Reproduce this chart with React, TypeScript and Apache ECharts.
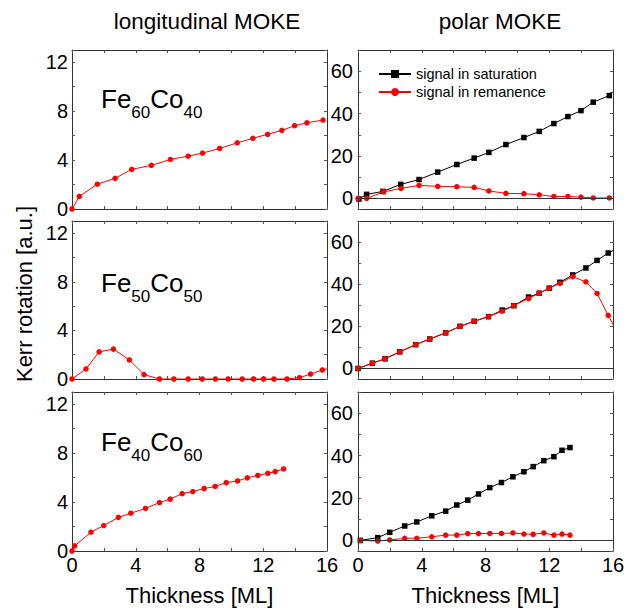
import React, { useEffect, useRef } from "react";
import * as echarts from "echarts";

// ---------- data ----------
const xTickLabels = [0, 4, 8, 12, 16];
const longYTickLabels = [0, 4, 8, 12];
const polarYTickLabels = [0, 20, 40, 60];

const fe60LongX = [0, 0.46, 1.59, 2.7, 3.75, 4.98, 6.18, 7.29, 8.19, 9.26, 10.37, 11.35, 12.27, 13.17, 13.97, 14.74, 15.75];
const fe60LongY = [0, 1.03, 2.03, 2.51, 3.24, 3.57, 4.05, 4.32, 4.57, 4.95, 5.41, 5.78, 6.11, 6.43, 6.81, 7.05, 7.27];

const fe50LongX = [0, 0.88, 1.7, 2.6, 3.6, 4.52, 5.49, 6.39, 7.29, 8.17, 9.0, 9.8, 10.68, 11.39, 12.02, 12.67, 13.49, 14.28, 14.97, 15.71, 16.4];
const fe50LongY = [0, 0.83, 2.23, 2.46, 1.57, 0.36, 0, 0, 0, 0, 0, 0, 0, 0, 0, 0, 0, 0.11, 0.41, 0.74, 0.95];

const fe40LongX = [0, 0.17, 1.19, 1.99, 2.91, 3.69, 4.61, 5.49, 6.16, 6.91, 7.58, 8.29, 8.98, 9.68, 10.39, 11.0, 11.66, 12.29, 12.75, 13.28];
const fe40LongY = [0, 0.42, 1.54, 2.08, 2.75, 3.09, 3.48, 3.96, 4.24, 4.69, 4.86, 5.11, 5.28, 5.59, 5.73, 5.98, 6.18, 6.35, 6.49, 6.71];

const fe60PolSatX = [0.06, 0.54, 1.57, 2.68, 3.83, 5.0, 6.2, 7.29, 8.21, 9.28, 10.41, 11.37, 12.29, 13.17, 13.99, 14.76, 15.77];
const fe60PolSatY = [-0.3, 1.9, 3.3, 6.6, 8.9, 12.4, 16.0, 19.0, 21.7, 25.4, 28.7, 31.6, 35.3, 38.6, 41.4, 45.4, 48.5];
const fe60PolRemX = [0, 0.54, 1.61, 2.7, 3.83, 5.0, 6.2, 7.29, 8.21, 9.28, 10.41, 11.37, 12.29, 13.17, 13.99, 14.76, 15.77];
const fe60PolRemY = [0, 0, 3.1, 4.7, 6.1, 5.7, 5.5, 5.2, 3.5, 2.4, 2.2, 1.7, 0.9, 0.9, 0.6, 0.2, 0.2];

const fe50PolX = [0, 0.9, 1.7, 2.62, 3.62, 4.5, 5.5, 6.4, 7.29, 8.19, 9.05, 9.78, 10.7, 11.37, 12.0, 12.67, 13.47, 14.3, 15.0, 15.7, 16.4];
const fe50PolSatY = [0, 2.5, 4.6, 7.9, 11.3, 14.0, 16.9, 20.0, 22.4, 24.6, 27.7, 29.8, 33.9, 35.7, 38.1, 40.9, 44.4, 47.7, 51.3, 54.8, 57.5];
const fe50PolRemY = [0, 2.5, 4.6, 7.9, 11.3, 14.0, 16.9, 20.0, 22.4, 24.6, 27.2, 29.8, 33.2, 35.7, 38.1, 40.4, 43.6, 41.1, 35.6, 25.2, 15.5];

const fe40PolX = [0.15, 1.24, 1.99, 2.93, 3.69, 4.63, 5.5, 6.2, 6.89, 7.56, 8.27, 9.0, 9.72, 10.41, 10.99, 11.66, 12.29, 12.8, 13.3];
const fe40PolSatY = [0, 1.3, 3.8, 6.8, 8.7, 11.6, 13.8, 16.7, 19.0, 21.9, 24.9, 27.3, 30.0, 32.4, 34.8, 37.6, 39.5, 42.5, 43.8];
const fe40PolRemY = [0, -0.3, 0.2, 1.0, 1.0, 1.7, 2.5, 2.5, 3.2, 3.2, 3.3, 3.3, 3.5, 3.0, 2.9, 3.5, 2.5, 3.0, 2.5];

const satName = "signal in saturation";
const remName = "signal in remanence";

const FONT = "'Liberation Sans', Arial, Helvetica, sans-serif";

const zip = (xs: number[], ys: number[]) => xs.map((x, i) => [x, ys[i]]);

export default function App() {
  const ref = useRef<HTMLDivElement>(null);

  useEffect(() => {
    document.body.style.margin = "0";
    if (!ref.current) return;
    const chart = echarts.init(ref.current, undefined, { renderer: "svg" });

    const rowTops = [50, 221, 392];
    const rowHeights = [159, 158, 159];
    const colLefts = [72, 358];
    const colWidth = 255;

    const grids: any[] = [];
    const xAxes: any[] = [];
    const yAxes: any[] = [];
    const series: any[] = [];

    const lineCol = "#333";
    const tickCol = "#555";

    const tickCommon = {
      axisTick: { show: true, inside: true, length: 3, lineStyle: { color: tickCol, width: 1 } },
      minorTick: { show: true, splitNumber: 2, length: 3, lineStyle: { color: tickCol, width: 1 } },
      splitLine: { show: false },
      minorSplitLine: { show: false },
    };

    for (let r = 0; r < 3; r++) {
      for (let c = 0; c < 2; c++) {
        const g = grids.length;
        grids.push({
          left: colLefts[c],
          top: rowTops[r],
          width: colWidth,
          height: rowHeights[r],
          show: false,
        });
        const bottomRow = r === 2;
        xAxes.push({
          type: "value",
          gridIndex: g,
          min: 0,
          max: 16,
          interval: 4,
          position: "bottom",
          axisLine: { show: true, onZero: false, lineStyle: { color: lineCol, width: 1 } },
          ...tickCommon,
          axisLabel: {
            show: bottomRow,
            margin: 4,
            fontSize: 20,
            color: "#000",
            fontFamily: FONT,
            formatter: (v: number) => (xTickLabels.includes(v) ? String(v) : ""),
          },
          name: bottomRow ? "Thickness [ML]" : "",
          nameLocation: "middle",
          nameGap: 33,
          nameTextStyle: { fontSize: 22, color: "#000", fontFamily: FONT },
        });
        xAxes.push({
          type: "value",
          gridIndex: g,
          min: 0,
          max: 16,
          interval: 4,
          position: "top",
          axisLine: { show: true, onZero: false, lineStyle: { color: lineCol, width: 1 } },
          ...tickCommon,
          axisLabel: { show: false },
        });
        if (c === 0) {
          const yBase = {
            type: "value",
            gridIndex: g,
            min: 0,
            max: 13,
            interval: 4,
            ...tickCommon,
          };
          yAxes.push({
            ...yBase,
            position: "left",
            axisLine: { show: true, onZero: false, lineStyle: { color: lineCol, width: 1 } },
            axisLabel: {
              show: true,
              margin: 4,
              fontSize: 20,
              color: "#000",
              fontFamily: FONT,
              formatter: (v: number) => (longYTickLabels.includes(v) ? String(v) : ""),
            },
          });
          yAxes.push({
            ...yBase,
            position: "right",
            axisLine: { show: true, onZero: false, lineStyle: { color: lineCol, width: 1 } },
            axisLabel: { show: false },
          });
        } else {
          const yBase = {
            type: "value",
            gridIndex: g,
            min: -5,
            max: 70,
            splitNumber: 4,
            ...tickCommon,
          };
          yAxes.push({
            ...yBase,
            position: "left",
            axisLine: { show: true, onZero: false, lineStyle: { color: lineCol, width: 1 } },
            axisLabel: {
              show: true,
              margin: 5,
              fontSize: 20,
              color: "#000",
              fontFamily: FONT,
              showMinLabel: false,
              showMaxLabel: false,
              formatter: (v: number) => (polarYTickLabels.includes(v) ? String(v) : ""),
            },
          });
          yAxes.push({
            ...yBase,
            position: "right",
            axisLine: { show: true, onZero: false, lineStyle: { color: lineCol, width: 1 } },
            axisLabel: { show: false },
          });
        }
      }
    }

    const redLine = (g: number, data: number[][], name: string, withZero = false) => ({
      type: "line",
      name,
      xAxisIndex: 2 * g,
      yAxisIndex: 2 * g,
      data,
      symbol: "circle",
      symbolSize: 5.5,
      showAllSymbol: true,
      clip: true,
      lineStyle: { color: "#ff0000", width: 1 },
      itemStyle: { color: "#ff0000" },
      z: 3,
      ...(withZero
        ? {
            markLine: {
              silent: true,
              symbol: ["none", "none"],
              label: { show: false },
              lineStyle: { color: "#333", width: 1, type: "solid" },
              data: [{ yAxis: 0 }],
            },
          }
        : {}),
    });
    const blackLine = (g: number, data: number[][]) => ({
      type: "line",
      name: satName,
      xAxisIndex: 2 * g,
      yAxisIndex: 2 * g,
      data,
      symbol: "rect",
      symbolSize: 5.5,
      showAllSymbol: true,
      clip: true,
      lineStyle: { color: "#000", width: 1 },
      itemStyle: { color: "#000" },
      z: 2,
    });

    // left column (longitudinal)
    series.push(redLine(0, zip(fe60LongX, fe60LongY), "longitudinal"));
    series.push(redLine(2, zip(fe50LongX, fe50LongY), "longitudinal"));
    series.push(redLine(4, zip(fe40LongX, fe40LongY), "longitudinal"));
    // right column (polar)
    series.push(blackLine(1, zip(fe60PolSatX, fe60PolSatY)));
    series.push(redLine(1, zip(fe60PolRemX, fe60PolRemY), remName, true));
    series.push(blackLine(3, zip(fe50PolX, fe50PolSatY)));
    series.push(redLine(3, zip(fe50PolX, fe50PolRemY), remName, true));
    series.push(blackLine(5, zip(fe40PolX, fe40PolSatY)));
    series.push(redLine(5, zip(fe40PolX, fe40PolRemY), remName, true));

    const formula = (y: number, a: string, b: string) => ({
      type: "text",
      x: 101,
      y,
      style: {
        text: `{m|Fe}{s|${a}}{m|Co}{s|${b}}`,
        verticalAlign: "top",
        align: "left",
        rich: {
          m: { fontSize: 26, lineHeight: 44, fontFamily: FONT, fill: "#000" },
          s: { fontSize: 17, lineHeight: 16, verticalAlign: "bottom", fontFamily: FONT, fill: "#000" },
        },
      },
    });

    chart.setOption({
      animation: false,
      backgroundColor: "#fff",
      grid: grids,
      xAxis: xAxes,
      yAxis: yAxes,
      legend: {
        data: [satName, remName],
        orient: "vertical",
        left: 373,
        top: 61,
        itemWidth: 32,
        itemHeight: 10,
        itemGap: 2,
        selectedMode: false,
        textStyle: { fontSize: 14.5, lineHeight: 16, color: "#000", fontFamily: FONT },
      },
      graphic: [
        {
          type: "text",
          x: 207,
          y: 21,
          style: { text: "longitudinal MOKE", fontSize: 22.5, fontFamily: FONT, fill: "#000", align: "center", verticalAlign: "middle" },
        },
        {
          type: "text",
          x: 500,
          y: 21,
          style: { text: "polar MOKE", fontSize: 22.5, fontFamily: FONT, fill: "#000", align: "center", verticalAlign: "middle" },
        },
        {
          type: "text",
          x: 24,
          y: 294,
          rotation: Math.PI / 2,
          style: { text: "Kerr rotation [a.u.]", fontSize: 22, fontFamily: FONT, fill: "#000", align: "center", verticalAlign: "middle" },
        },
        formula(77, "60", "40"),
        formula(261, "50", "50"),
        formula(420, "40", "60"),
      ],
      series,
    });

    return () => chart.dispose();
  }, []);

  return <div ref={ref} style={{ width: 634, height: 612 }} />;
}
